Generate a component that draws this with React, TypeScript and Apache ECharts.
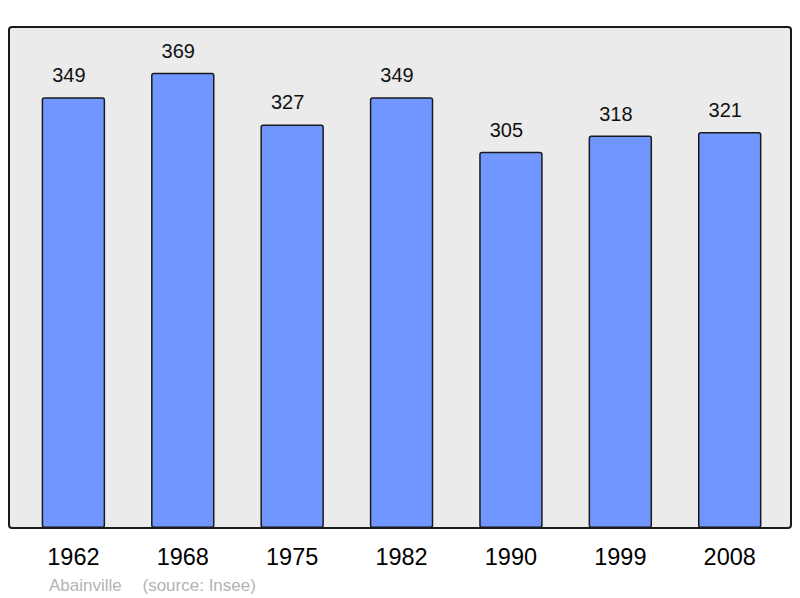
import React, { useEffect, useRef } from "react";
import * as echarts from "echarts";

const years = ["1962", "1968", "1975", "1982", "1990", "1999", "2008"];
const population = [349, 369, 327, 349, 305, 318, 321];
const townName = "Abainville";
const sourceText = "(source: Insee)";

const FONT = "'Liberation Sans', Arial, sans-serif";

export default function App() {
  const ref = useRef<HTMLDivElement>(null);
  useEffect(() => {
    if (!ref.current) return;
    const chart = echarts.init(ref.current, null, { renderer: "svg" });
    chart.setOption({
      animation: false,
      backgroundColor: "#ffffff",
      textStyle: { fontFamily: FONT },
      grid: { left: 18.7, right: 15.6, top: 27, bottom: 70, containLabel: false },
      xAxis: {
        type: "category",
        data: years,
        axisLine: { show: false },
        axisTick: { show: false },
        axisLabel: { fontSize: 23.5, color: "#000", margin: 17, fontFamily: FONT },
      },
      yAxis: {
        type: "value",
        min: 0,
        max: 406,
        show: false,
        splitLine: { show: false },
      },
      graphic: [
        {
          type: "rect",
          z: -10,
          shape: { x: 9, y: 27, width: 782, height: 501, r: 3 },
          style: { fill: "#ebebeb", stroke: "#1a1a1a", lineWidth: 2 },
        },
        {
          type: "text",
          x: 49,
          y: 585,
          style: { text: townName, fill: "#b4b4b4", fontSize: 17, fontFamily: FONT, textVerticalAlign: "middle" },
        },
        {
          type: "text",
          x: 142.5,
          y: 585,
          style: { text: sourceText, fill: "#b4b4b4", fontSize: 17, fontFamily: FONT, textVerticalAlign: "middle" },
        },
      ],
      series: [
        {
          type: "bar",
          data: population,
          barWidth: "58%",
          itemStyle: { color: "#7196ff", borderColor: "#1a1a1a", borderWidth: 1.5, borderRadius: 2 },
          label: {
            show: true,
            position: "top",
            distance: 12,
            offset: [-4.5, 0],
            fontSize: 20,
            color: "#111",
            fontFamily: FONT,
          },
        },
      ],
    });
    return () => chart.dispose();
  }, []);
  return <div ref={ref} style={{ width: 800, height: 598, position: "absolute", left: 0, top: 0 }} />;
}
